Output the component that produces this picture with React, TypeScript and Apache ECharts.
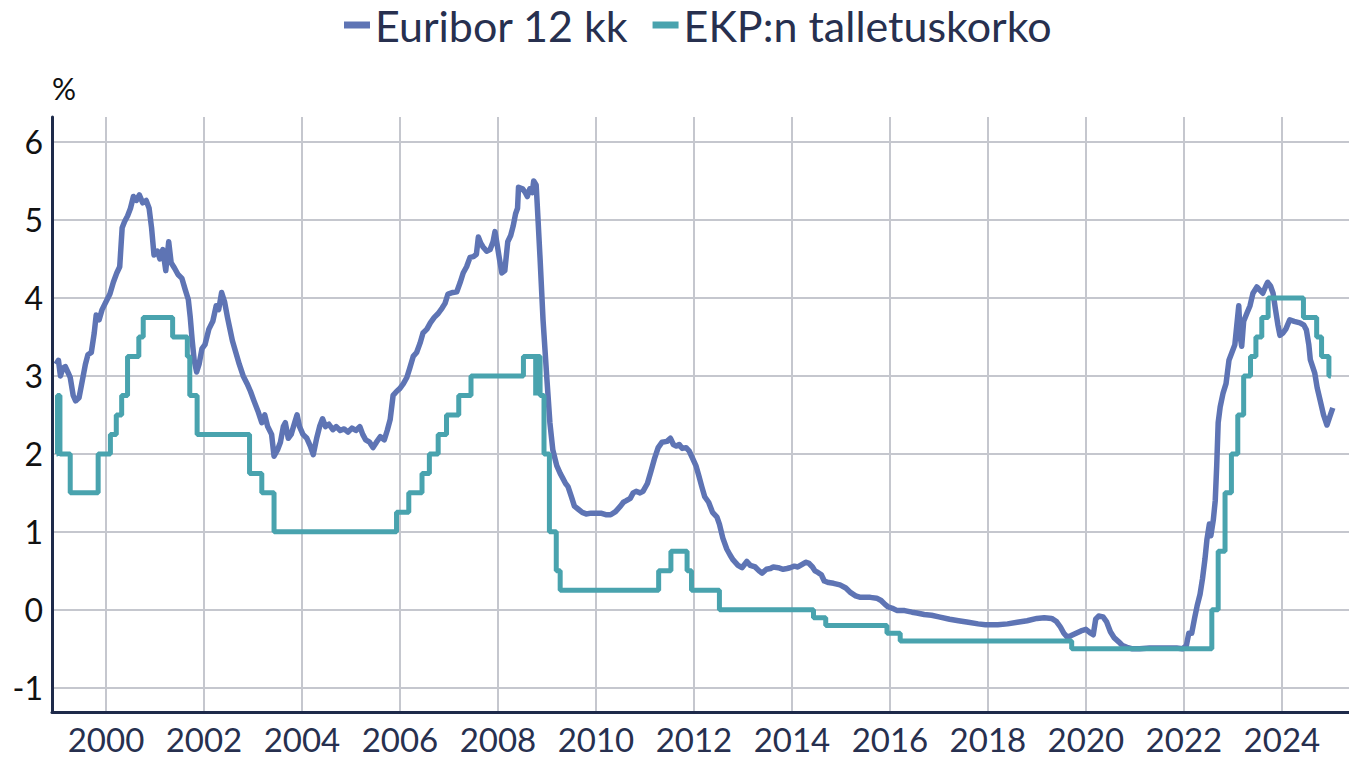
import React, { useEffect, useRef } from "react";
import * as echarts from "echarts";

const seriesNames = ["Euribor 12 kk", "EKP:n talletuskorko"];

// Euribor 12 kk: decimal year, %
const euriborYears = [
  1998.98, 1999.03, 1999.07, 1999.12, 1999.17, 1999.22, 1999.27, 1999.33, 1999.38, 1999.45,
  1999.52, 1999.58, 1999.63, 1999.7, 1999.76, 1999.8, 1999.86, 1999.92, 2000.0, 2000.08,
  2000.15, 2000.22, 2000.28, 2000.33, 2000.38, 2000.44, 2000.5, 2000.56, 2000.62, 2000.68,
  2000.75, 2000.82, 2000.88, 2000.93, 2000.98, 2001.05, 2001.1, 2001.16, 2001.22, 2001.28,
  2001.33, 2001.4, 2001.47, 2001.55, 2001.62, 2001.68, 2001.72, 2001.76, 2001.8, 2001.85,
  2001.9, 2001.96, 2002.02, 2002.1, 2002.18, 2002.25, 2002.3, 2002.36, 2002.42, 2002.48,
  2002.53, 2002.58, 2002.65, 2002.72, 2002.8, 2002.88, 2002.95, 2003.02, 2003.1, 2003.18,
  2003.24, 2003.3, 2003.38, 2003.43, 2003.5, 2003.56, 2003.62, 2003.66, 2003.72, 2003.78,
  2003.85, 2003.9, 2003.95, 2004.02, 2004.1, 2004.17, 2004.23, 2004.3, 2004.36, 2004.42,
  2004.48, 2004.55, 2004.63, 2004.7, 2004.78, 2004.86, 2004.94, 2005.02, 2005.1, 2005.18,
  2005.24, 2005.3, 2005.38, 2005.45, 2005.52, 2005.6, 2005.68, 2005.74, 2005.8, 2005.86,
  2005.93, 2006.0, 2006.07, 2006.14, 2006.2, 2006.27, 2006.34, 2006.41, 2006.47, 2006.55,
  2006.62, 2006.7, 2006.78, 2006.86, 2006.92, 2006.98, 2007.08, 2007.16, 2007.23, 2007.29,
  2007.36, 2007.43, 2007.5, 2007.56, 2007.6, 2007.65, 2007.7, 2007.77, 2007.84, 2007.9,
  2007.94, 2007.98, 2008.03, 2008.08, 2008.14, 2008.2, 2008.26, 2008.31, 2008.36, 2008.4,
  2008.42, 2008.5, 2008.56, 2008.6, 2008.65, 2008.7, 2008.73, 2008.78, 2008.81, 2008.86,
  2008.92, 2009.0, 2009.06, 2009.12, 2009.2, 2009.27, 2009.33, 2009.38, 2009.43, 2009.5,
  2009.56, 2009.64, 2009.72, 2009.8, 2009.9, 2010.0, 2010.1, 2010.2, 2010.3, 2010.4,
  2010.5, 2010.56, 2010.62, 2010.7, 2010.76, 2010.82, 2010.9, 2010.96, 2011.05, 2011.12,
  2011.2, 2011.27, 2011.35, 2011.45, 2011.52, 2011.58, 2011.64, 2011.7, 2011.76, 2011.84,
  2011.9, 2011.96, 2012.04, 2012.1, 2012.16, 2012.22, 2012.3, 2012.38, 2012.47, 2012.52,
  2012.59, 2012.67, 2012.74, 2012.8, 2012.9, 2012.98, 2013.08, 2013.15, 2013.25, 2013.33,
  2013.39, 2013.48, 2013.56, 2013.62, 2013.72, 2013.82, 2013.9, 2013.96, 2014.05, 2014.12,
  2014.2, 2014.28, 2014.34, 2014.42, 2014.47, 2014.53, 2014.6, 2014.66, 2014.75, 2014.85,
  2014.98, 2015.1, 2015.2, 2015.3, 2015.4, 2015.5, 2015.6, 2015.73, 2015.82, 2015.9,
  2015.96, 2016.05, 2016.15, 2016.3, 2016.45, 2016.55, 2016.7, 2016.85, 2017.0, 2017.22,
  2017.4, 2017.6, 2017.8, 2017.95, 2018.2, 2018.4, 2018.6, 2018.8, 2019.0, 2019.15,
  2019.3, 2019.4, 2019.48, 2019.55, 2019.62, 2019.7, 2019.8, 2019.9, 2020.0, 2020.1,
  2020.15, 2020.2, 2020.26, 2020.35, 2020.42, 2020.5, 2020.58, 2020.67, 2020.75, 2020.84,
  2020.95, 2021.1, 2021.3, 2021.5, 2021.7, 2021.85, 2021.97, 2022.05, 2022.1, 2022.16,
  2022.22, 2022.27, 2022.33, 2022.38, 2022.43, 2022.47, 2022.52, 2022.55, 2022.6, 2022.64,
  2022.67, 2022.7, 2022.74, 2022.8, 2022.86, 2022.92, 2022.98, 2023.04, 2023.08, 2023.12,
  2023.15, 2023.18, 2023.22, 2023.29, 2023.35, 2023.41, 2023.49, 2023.55, 2023.61, 2023.67,
  2023.71, 2023.77, 2023.82, 2023.87, 2023.92, 2023.96, 2024.02, 2024.08, 2024.16, 2024.25,
  2024.37, 2024.45, 2024.5, 2024.55, 2024.58, 2024.67, 2024.72, 2024.78, 2024.85, 2024.92,
  2024.98, 2025.04,
];
const euriborValues = [
  3.15, 3.2, 3.0, 3.1, 3.12, 3.05, 2.98, 2.75, 2.68, 2.72,
  2.95, 3.15, 3.27, 3.3, 3.55, 3.78, 3.72, 3.85, 3.95, 4.05,
  4.2, 4.32, 4.4, 4.9, 4.98, 5.05, 5.15, 5.3, 5.25, 5.32,
  5.22, 5.25, 5.15, 4.9, 4.55, 4.6, 4.5, 4.62, 4.35, 4.72,
  4.45, 4.38, 4.3, 4.25, 4.1, 3.98, 3.75, 3.45, 3.2, 3.05,
  3.15, 3.35, 3.4, 3.6, 3.7, 3.9, 3.85, 4.07, 3.95, 3.75,
  3.6, 3.45, 3.3, 3.15, 3.0, 2.9, 2.8, 2.68, 2.55, 2.4,
  2.5, 2.35, 2.25, 1.97, 2.05, 2.15, 2.35, 2.4, 2.2, 2.25,
  2.4, 2.5, 2.35, 2.25, 2.2, 2.1, 1.99, 2.2, 2.35, 2.45,
  2.35, 2.38, 2.31, 2.35, 2.3, 2.32, 2.28, 2.33, 2.3, 2.35,
  2.25, 2.18, 2.15, 2.08, 2.15, 2.22, 2.18, 2.3, 2.44, 2.75,
  2.8, 2.84, 2.9, 2.98, 3.1, 3.25, 3.3, 3.42, 3.55, 3.6,
  3.68, 3.75, 3.8, 3.87, 3.93, 4.05, 4.07, 4.08, 4.2, 4.32,
  4.4, 4.52, 4.53, 4.56, 4.78, 4.7, 4.65, 4.6, 4.62, 4.72,
  4.85, 4.7, 4.5, 4.32, 4.35, 4.72, 4.8, 4.92, 5.08, 5.15,
  5.42, 5.4, 5.35, 5.3, 5.4, 5.35, 5.5, 5.45, 5.1, 4.5,
  3.72, 2.95, 2.4, 2.05, 1.85, 1.75, 1.68, 1.62, 1.58, 1.45,
  1.33, 1.29, 1.25, 1.23, 1.24, 1.24, 1.24, 1.22, 1.22, 1.26,
  1.33, 1.38, 1.4, 1.43, 1.5, 1.52, 1.5, 1.52, 1.62, 1.77,
  1.95, 2.08, 2.15, 2.16, 2.2, 2.12, 2.1, 2.12, 2.07, 2.08,
  2.04, 1.96, 1.85, 1.72, 1.58, 1.45, 1.38, 1.25, 1.19, 1.1,
  0.92, 0.78, 0.7, 0.64, 0.57, 0.54, 0.62, 0.57, 0.55, 0.5,
  0.47, 0.52, 0.53, 0.55, 0.54, 0.52, 0.53, 0.54, 0.56, 0.55,
  0.58, 0.61, 0.6, 0.55, 0.5, 0.48, 0.45, 0.37, 0.35, 0.34,
  0.32, 0.28, 0.22, 0.18, 0.16, 0.16, 0.16, 0.15, 0.12, 0.07,
  0.04, 0.02, -0.01, -0.01, -0.03, -0.04, -0.06, -0.07, -0.09, -0.12,
  -0.14, -0.16, -0.18, -0.19, -0.19, -0.18, -0.16, -0.14, -0.11, -0.1,
  -0.11, -0.15, -0.22, -0.3, -0.35, -0.33, -0.3, -0.27, -0.25, -0.3,
  -0.32, -0.12, -0.08, -0.09, -0.15, -0.28, -0.36, -0.41, -0.46, -0.48,
  -0.5, -0.5, -0.49, -0.49, -0.49, -0.49, -0.5, -0.46, -0.3, -0.3,
  -0.1, 0.05, 0.2, 0.4, 0.65, 0.9, 1.1, 0.95, 1.15, 1.4,
  1.85, 2.4, 2.6, 2.78, 2.9, 3.2, 3.3, 3.4, 3.65, 3.9,
  3.5, 3.38, 3.7, 3.81, 3.9, 4.06, 4.14, 4.1, 4.06, 4.15,
  4.2, 4.15, 4.06, 3.85, 3.65, 3.52, 3.55, 3.6, 3.72, 3.7,
  3.68, 3.65, 3.59, 3.4, 3.21, 3.04, 2.85, 2.69, 2.5, 2.37,
  2.48, 2.59,
];

// EKP:n talletuskorko: date of change (decimal year), new rate %
const depositYears = [
  1998.99, 1999.01, 1999.06, 1999.27, 1999.84, 2000.09, 2000.21, 2000.32, 2000.44, 2000.67,
  2000.76, 2001.36, 2001.66, 2001.71, 2001.86, 2002.93, 2003.18, 2003.43, 2005.93, 2006.18,
  2006.45, 2006.6, 2006.78, 2006.95, 2007.2, 2007.45, 2008.52, 2008.77, 2008.775, 2008.86,
  2008.94, 2009.05, 2009.19, 2009.27, 2011.28, 2011.53, 2011.86, 2011.95, 2012.52, 2014.44,
  2014.69, 2015.94, 2016.21, 2019.71, 2022.57, 2022.7, 2022.84, 2022.97, 2023.1, 2023.22,
  2023.36, 2023.47, 2023.59, 2023.72, 2024.44, 2024.71, 2024.81, 2024.96, 2025.0,
];
const depositValues = [
  2.0, 2.75, 2.0, 1.5, 2.0, 2.25, 2.5, 2.75, 3.25, 3.5,
  3.75, 3.5, 3.25, 2.75, 2.25, 1.75, 1.5, 1.0, 1.25, 1.5,
  1.75, 2.0, 2.25, 2.5, 2.75, 3.0, 3.25, 2.75, 3.25, 2.75,
  2.0, 1.0, 0.5, 0.25, 0.5, 0.75, 0.5, 0.25, 0.0, -0.1,
  -0.2, -0.3, -0.4, -0.5, 0.0, 0.75, 1.5, 2.0, 2.5, 3.0,
  3.25, 3.5, 3.75, 4.0, 3.75, 3.5, 3.25, 3.0, 3.0,
];

const xMin = 1998.898;
const xMax = 2025.37;
const yMin = -1.31;
const yMax = 6.32;

const FONT = "Lato, 'Noto Sans', sans-serif";
const NAVY = "#27304f";
const EURIBOR_COLOR = "#5e74b4";
const DEPOSIT_COLOR = "#49a3ae";

export default function App() {
  const ref = useRef<HTMLDivElement>(null);

  useEffect(() => {
    document.body.style.margin = "0";
    if (!ref.current) return;
    const chart = echarts.init(ref.current, null, { renderer: "svg" });
    const euribor = euriborYears.map((x, i) => [x, euriborValues[i]]);
    const deposit = depositYears.map((x, i) => [x, depositValues[i]]);
    chart.setOption({
      animation: false,
      backgroundColor: "#ffffff",
      grid: { left: 52, right: 0, top: 117, bottom: 46, containLabel: false },
      legend: {
        data: seriesNames,
        left: 344,
        top: 3,
        padding: 0,
        icon: "rect",
        itemWidth: 26,
        itemHeight: 7,
        itemGap: 24,
        textStyle: { fontFamily: FONT, fontSize: 43, lineHeight: 44, color: NAVY },
      },
      xAxis: {
        type: "value",
        min: xMin,
        max: xMax,
        splitNumber: 13,
        axisLine: { show: true, onZero: false, lineStyle: { color: "#1e2a4a", width: 3 } },
        axisTick: { show: false },
        axisLabel: {
          showMinLabel: false,
          showMaxLabel: false,
          margin: 11,
          fontFamily: FONT,
          fontSize: 33,
          lineHeight: 32,
          color: NAVY,
          formatter: (v: number) => String(Math.round(v)),
        },
        splitLine: {
          show: true,
          showMinLine: false,
          showMaxLine: false,
          lineStyle: { color: "#c5c7ce", width: 2 },
        },
      },
      yAxis: {
        type: "value",
        min: yMin,
        max: yMax,
        splitNumber: 7,
        name: "%",
        nameLocation: "end",
        nameGap: 14,
        nameTextStyle: { fontFamily: FONT, fontSize: 30, color: "#111", align: "left", verticalAlign: "bottom" },
        axisLine: { show: true, onZero: false, lineStyle: { color: "#1e2a4a", width: 3 } },
        axisTick: { show: false },
        axisLabel: {
          showMinLabel: false,
          showMaxLabel: false,
          margin: 9,
          fontFamily: FONT,
          fontSize: 32,
          color: "#111",
          formatter: (v: number) => String(Math.round(v)),
        },
        splitLine: {
          show: true,
          showMinLine: false,
          showMaxLine: false,
          lineStyle: { color: "#c5c7ce", width: 2 },
        },
      },
      series: [
        {
          name: seriesNames[0],
          type: "line",
          data: euribor,
          showSymbol: false,
          color: EURIBOR_COLOR,
          lineStyle: { width: 5.5, color: EURIBOR_COLOR, join: "round" },
          z: 2,
        },
        {
          name: seriesNames[1],
          type: "line",
          step: "end",
          data: deposit,
          showSymbol: false,
          color: DEPOSIT_COLOR,
          lineStyle: { width: 5, color: DEPOSIT_COLOR },
          z: 3,
        },
      ],
    });
    return () => chart.dispose();
  }, []);

  return <div ref={ref} style={{ position: "fixed", left: 0, top: 0, width: 1349, height: 758 }} />;
}
